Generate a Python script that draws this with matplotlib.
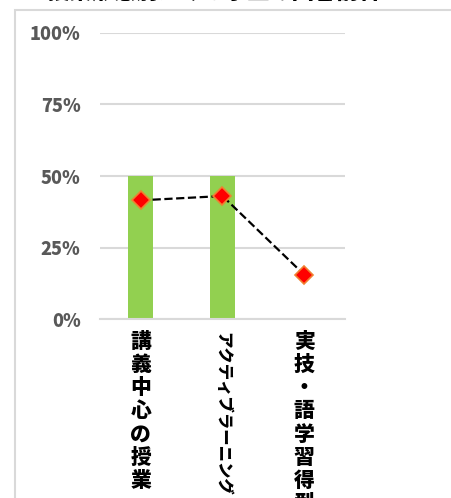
import matplotlib.pyplot as plt
from matplotlib.patches import Rectangle

plt.rcParams['font.family'] = ['Noto Sans CJK JP', 'DejaVu Sans']

categories = ['講義中心の授業', 'アクティブラーニング', '実技・語学習得型']
bar_values = [0.5, 0.5, 0.0]
line_values = [0.415, 0.43, 0.155]
y_ticks = [0, 0.25, 0.5, 0.75, 1.0]
y_tick_labels = ['0%', '25%', '50%', '75%', '100%']
title = '授業形態別にみる学生の回答割合'

W, H = 451, 498
fig = plt.figure(figsize=(W / 100, H / 100), dpi=100)

# chart frame (cropped in the reference)
fig.patches.append(Rectangle((15 / W, -0.1), 1.2, (H - 10) / H + 0.1,
                             transform=fig.transFigure, fill=False,
                             edgecolor='#D9D9D9', linewidth=1.5))

# title is mostly cut off at the top edge
fig.text(215 / W, (H + 7.5) / H, title, ha='center', va='center',
         fontsize=16, fontweight='black', color='black')

ax = fig.add_axes([100 / W, (H - 319) / H, 245 / W, 286 / H])
x = list(range(len(categories)))

ax.bar(x, bar_values, width=0.31, color='#92D050', zorder=2)
ax.plot(x, line_values, linestyle='--', color='black', linewidth=1.6,
        marker='D', markersize=9, markerfacecolor='#FF0000',
        markeredgecolor='#F08030', markeredgewidth=1.2, zorder=3)

ax.set_xlim(-0.5, len(categories) - 0.5)
ax.set_ylim(0, 1)
ax.set_yticks(y_ticks)
ax.set_yticklabels(y_tick_labels, fontsize=13, fontweight='black', color='#595959')
ax.grid(axis='y', color='#D9D9D9', linewidth=1.5, zorder=0)
ax.tick_params(axis='y', length=0, pad=14)
ax.tick_params(axis='x', length=0, pad=9)
for s in ['top', 'right', 'left']:
    ax.spines[s].set_visible(False)
ax.spines['bottom'].set_color('#D9D9D9')
ax.spines['bottom'].set_linewidth(1.5)

# vertical labels: kanji stacked, katakana label rotated
labels = []
for c in categories:
    if c == 'アクティブラーニング':
        labels.append(c)
    else:
        labels.append('\n'.join(c))
ax.set_xticks(x)
ax.set_xticklabels(labels, fontsize=15, fontweight='black', color='black',
                   linespacing=1.2, va='top')
for t, c in zip(ax.get_xticklabels(), categories):
    if c == 'アクティブラーニング':
        t.set_rotation(-90)
        t.set_fontsize(11.8)

fig.savefig('out.png', dpi=100)
